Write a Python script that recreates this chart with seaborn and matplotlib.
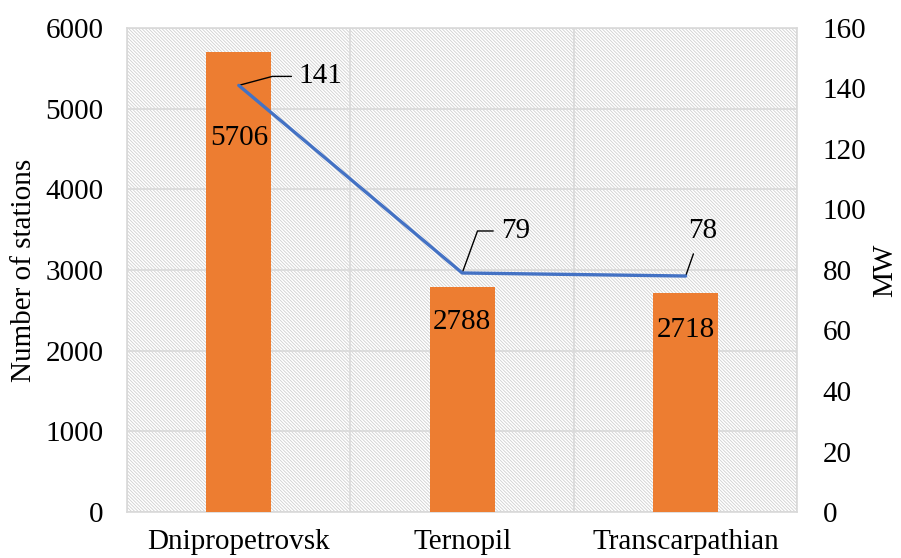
import numpy as np
import pandas as pd
import matplotlib
matplotlib.use("Agg")
import matplotlib.pyplot as plt
from matplotlib.patches import Rectangle
import seaborn as sns

# data
regions = ["Dnipropetrovsk", "Ternopil", "Transcarpathian"]
stations = [5706, 2788, 2718]
power_mw = [141, 79, 78]

sns.set_style("white")
plt.rcParams['font.family'] = ['Liberation Serif', 'DejaVu Serif']
plt.rcParams['font.size'] = 21
plt.rcParams['text.color'] = 'black'
plt.rcParams['axes.labelcolor'] = 'black'
plt.rcParams['xtick.color'] = 'black'
plt.rcParams['ytick.color'] = 'black'
plt.rcParams['hatch.color'] = '#d0d0d0'
plt.rcParams['hatch.linewidth'] = 0.6

BAR = '#ED7D31'
LINE = '#4472C4'
GRID = '#d9d9d9'
FS = 21

fig = plt.figure(figsize=(9.01, 5.58), dpi=100)
ax = fig.add_axes([0.141, 0.0824, 0.744, 0.8676])

# hatched plot area background
ax.add_patch(Rectangle((0, 0), 1, 1, transform=ax.transAxes, facecolor='white',
                       edgecolor='#d0d0d0', hatch='\\' * 10, linewidth=0, zorder=0))

df = pd.DataFrame({'region': regions, 'stations': stations})
sns.barplot(data=df, x='region', y='stations', color=BAR, width=0.29,
            saturation=1, linewidth=0, ax=ax, zorder=3)

ax.set_xlim(-0.5, len(regions) - 0.5)
ax.set_ylim(0, 6000)
ax.set_yticks(np.arange(0, 6001, 1000))
ax.set_ylabel('Number of stations', fontsize=FS, labelpad=6)
ax.set_xlabel('')
ax.grid(axis='y', color=GRID, linewidth=1.2, zorder=1)
ax.set_xticks(np.arange(-0.5, len(regions)), minor=True)
ax.grid(axis='x', which='minor', color=GRID, linewidth=1.2, zorder=1)
ax.tick_params(axis='x', which='major', length=0, pad=12, labelsize=FS)
ax.tick_params(axis='x', which='minor', length=9, color=GRID, width=1.2)
ax.tick_params(axis='y', length=0, pad=17, labelsize=FS)
for s in ax.spines.values():
    s.set_color(GRID)
    s.set_linewidth(1.2)
ax.set_axisbelow(True)

# bar value labels inside the bars
label_off = [-86, -35, -37]
for i, v in enumerate(stations):
    ax.annotate(f'{v}', xy=(i, v), xytext=(0, label_off[i] * 0.72),
                textcoords='offset points', ha='center', va='center',
                fontsize=FS, zorder=5)

# secondary axis line
ax2 = ax.twinx()
sns.lineplot(x=np.arange(len(regions)), y=power_mw, color=LINE, linewidth=2.4,
             sort=False, ax=ax2, zorder=4)
ax2.set_ylim(0, 160)
ax2.set_yticks(np.arange(0, 161, 20))
ax2.set_ylabel('MW', fontsize=FS, labelpad=4)
ax2.tick_params(axis='y', length=0, pad=18, labelsize=FS)
for s in ax2.spines.values():
    s.set_visible(False)

# line labels with leader lines
offs = [(82, -9), (53, -42), (17, -45)]
angles = [15, 70, 70]
for i, v in enumerate(power_mw):
    dx, dy = offs[i]
    if i < 2:
        cs = f"angle,angleA=0,angleB={angles[i]},rad=0"
        ax2.annotate(f'{v}', xy=(i, v), xytext=(dx * 0.72, -dy * 0.72),
                     textcoords='offset points', ha='center', va='center',
                     fontsize=FS,
                     arrowprops=dict(arrowstyle='-', color='black', lw=1,
                                     connectionstyle=cs, relpos=(0, 0.5),
                                     shrinkA=3, shrinkB=0))
    else:
        ax2.annotate(f'{v}', xy=(i, v), xytext=(dx * 0.72, -dy * 0.72),
                     textcoords='offset points', ha='center', va='center',
                     fontsize=FS,
                     arrowprops=dict(arrowstyle='-', color='black', lw=1,
                                     relpos=(0.3, 0), shrinkA=5, shrinkB=0))

fig.savefig('out.png', dpi=100)
